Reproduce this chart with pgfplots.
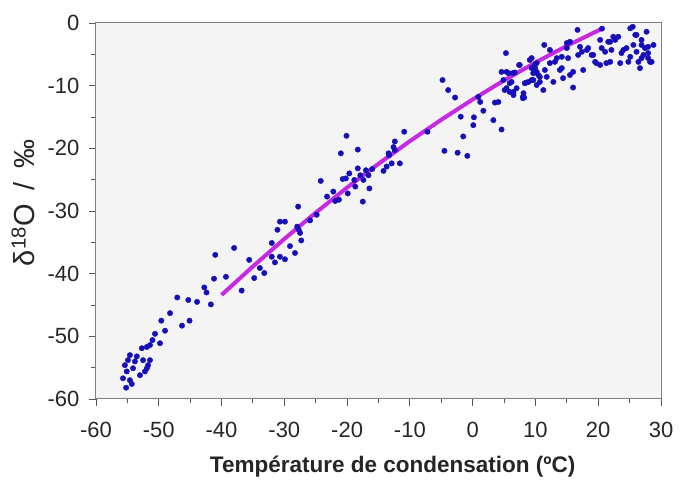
\documentclass[border=0pt]{standalone}
\usepackage{fontspec}
\setmainfont{Liberation Sans}
\usepackage{pgfplots}
\pgfplotsset{compat=1.18}
\definecolor{panelbg}{RGB}{244,244,244}
\definecolor{dotblue}{RGB}{22,14,185}
\definecolor{fitline}{RGB}{198,40,228}
\definecolor{axgray}{RGB}{128,128,128}

\begin{document}
\begin{tikzpicture}[x=1pt,y=1pt]
\path[use as bounding box] (-96,-88) rectangle (587,399);
\begin{axis}[
  at={(0,0)}, anchor=south west,
  width=565pt, height=376pt, scale only axis,
  xmin=-60, xmax=30, ymin=-60, ymax=0,
  xtick={-60,-50,...,30}, ytick={-60,-50,...,0},
  xticklabels={-60,-50,-40,-30,-20,-10,0,10,20,30},
  yticklabels={-60,-50,-40,-30,-20,-10,0},
  minor x tick num=1, minor y tick num=1,
  tick align=outside, xtick pos=left, ytick pos=left,
  major tick length=7pt, minor tick length=4.5pt,
  axis line style={axgray, line width=1pt},
  every tick/.style={black!65, line width=0.9pt},
  axis background/.style={fill=panelbg},
  tick label style={font=\fontsize{22}{25}\selectfont, text=black!85},
  xticklabel style={yshift=-13pt},
  yticklabel style={xshift=-6pt},
  xlabel={Température de condensation (ºC)},
  ylabel={δ\textsuperscript{18}O\hspace{0.2em} / \hspace{0.2em}‰},
  xlabel style={font=\fontsize{22.5}{26}\selectfont\bfseries, text=black!85,
    at={(axis description cs:0.525,-0.181)}, anchor=center},
  ylabel style={font=\fontsize{29}{32}\selectfont, text=black!85,
    at={(axis description cs:-0.129,0.522)}, anchor=center},
]
% ajustement (trait violet)
\addplot[fitline, line width=4pt, no markers] coordinates {
  (-40,-43.4) (-35,-38.84) (-30,-34.46) (-25,-30.27) (-20,-26.26)
  (-15,-22.47) (-10,-18.85) (-5,-15.44) (0,-12.2) (5,-9.16)
  (10,-6.31) (15,-3.65) (20.5,-0.96)
};
% mesures
\addplot[only marks, mark=*, mark size=2.7pt, color=dotblue] table {
x y
-41.2 -40.8
-39.3 -40.5
-42.75 -42.2
-42.4 -43.0
-36.8 -42.7
-41.7 -44.9
-47.05 -43.8
-45.3 -44.2
-43.9 -44.5
-48.2 -46.3
-49.6 -47.5
-45.1 -47.5
-46.3 -48.3
-50.6 -49.6
-49.0 -49.1
-51.0 -50.6
-49.8 -51.1
-51.4 -51.4
-52.7 -51.9
-51.9 -51.7
-53.5 -53.2
-54.6 -53.0
-54.9 -53.8
-52.5 -53.8
-53.8 -54.0
-51.4 -53.8
-51.7 -54.6
-55.4 -54.6
-54.1 -55.1
-51.9 -55.1
-53.0 -56.2
-55.1 -55.6
-55.7 -56.7
-54.6 -57.0
-54.3 -57.6
-55.2 -58.2
-52.2 -55.6
-41.0 -37.0
-38.0 -35.9
-35.6 -37.8
-34.8 -40.7
-33.9 -39.1
-33.2 -39.9
-32.0 -37.3
-31.5 -38.2
-30.7 -37.3
-29.9 -37.7
-29.1 -35.6
-28.3 -36.7
-27.3 -34.7
-32.0 -35.1
-31.1 -33.0
-30.7 -31.7
-29.9 -31.7
-27.8 -29.3
-27.7 -33.0
-27.95 -32.5
-27.5 -33.5
-25.9 -31.5
-24.85 -30.6
-24.2 -25.2
-23.2 -27.7
-22.2 -26.9
-21.9 -28.4
-21.3 -28.2
-21.0 -20.8
-20.1 -18.0
-18.3 -20.2
-19.9 -27.2
-20.7 -24.9
-20.2 -24.8
-19.65 -24.0
-18.85 -25.05
-18.3 -23.2
-17.9 -24.3
-17.4 -25.05
-17.0 -23.5
-16.6 -24.3
-16.0 -23.3
-16.45 -26.4
-17.5 -28.5
-18.7 -26.1
-14.2 -23.6
-13.7 -22.9
-13.4 -20.8
-13.3 -21.1
-12.6 -19.8
-12.4 -18.9
-12.4 -20.3
-12.9 -22.4
-11.6 -22.4
-10.9 -17.35
-7.2 -17.35
-4.8 -9.1
-3.9 -10.7
-2.8 -11.9
0.9 -11.8
1.2 -12.6
1.7 -14.0
3.55 -12.7
4.1 -12.6
-1.9 -14.95
0.2 -15.05
0.1 -16.3
3.3 -15.5
4.6 -17.0
-1.5 -18.1
-4.5 -20.4
-2.4 -20.7
-0.85 -21.2
4.6 -7.8
5.7 -8.0
6.7 -7.9
7.4 -6.7
4.9 -9.1
6.2 -9.4
5.1 -10.7
5.9 -11.0
6.5 -11.5
7.0 -10.4
8.1 -11.2
8.2 -11.9
8.6 -9.5
9.4 -9.1
9.65 -8.0
10.2 -9.9
9.9 -6.7
5.3 -4.8
9.1 -5.9
10.2 -7.8
10.7 -8.6
11.25 -10.7
11.4 -3.5
12.3 -4.3
13.1 -6.2
12.85 -9.4
13.9 -7.5
14.2 -5.4
15.0 -3.2
15.5 -8.3
16.0 -10.3
16.7 -1.1
17.1 -3.8
18.2 -4.3
19.2 -5.1
19.7 -6.4
21.1 -4.6
21.3 -6.4
21.9 -3.0
22.4 -2.2
24.0 -4.3
24.8 -6.2
25.5 -0.6
26.1 -1.9
26.9 -5.6
27.7 -1.4
27.95 -4.8
28.25 -6.2
28.8 -3.5
26.9 -3.5
9.4 -5.6
9.93 -7.2
10.45 -8.3
10.7 -9.4
11.5 -7.5
12.3 -6.4
13.4 -5.6
14.2 -7.2
14.4 -8.8
15.0 -4.0
15.2 -5.6
15.5 -3.0
16.0 -7.8
16.8 -5.1
17.4 -4.6
17.6 -7.5
18.4 -4.0
18.95 -5.1
19.5 -6.2
20.3 -6.7
20.55 -4.0
20.3 -2.7
20.6 -0.9
21.6 -3.0
21.9 -6.2
22.1 -4.3
22.7 -2.7
23.2 -2.2
23.5 -6.4
23.7 -4.8
24.5 -4.0
25.1 -5.4
25.1 -0.85
25.9 -1.9
25.6 -3.5
26.1 -4.6
26.4 -6.2
26.65 -7.2
26.9 -2.7
27.2 -5.1
27.95 -3.8
27.95 -5.6
28.5 -6.2
27.45 -4.0
5.4 -7.8
6.4 -8.0
5.9 -9.6
5.4 -10.4
6.5 -11.0
8.0 -12.0
9.4 -7.2
9.66 -9.1
8.9 -9.4
8.3 -9.6
11.8 -8.6
7.5 -6.7
10.2 -6.4
8.0 -11.8
};
\end{axis}
\end{tikzpicture}
\end{document}
